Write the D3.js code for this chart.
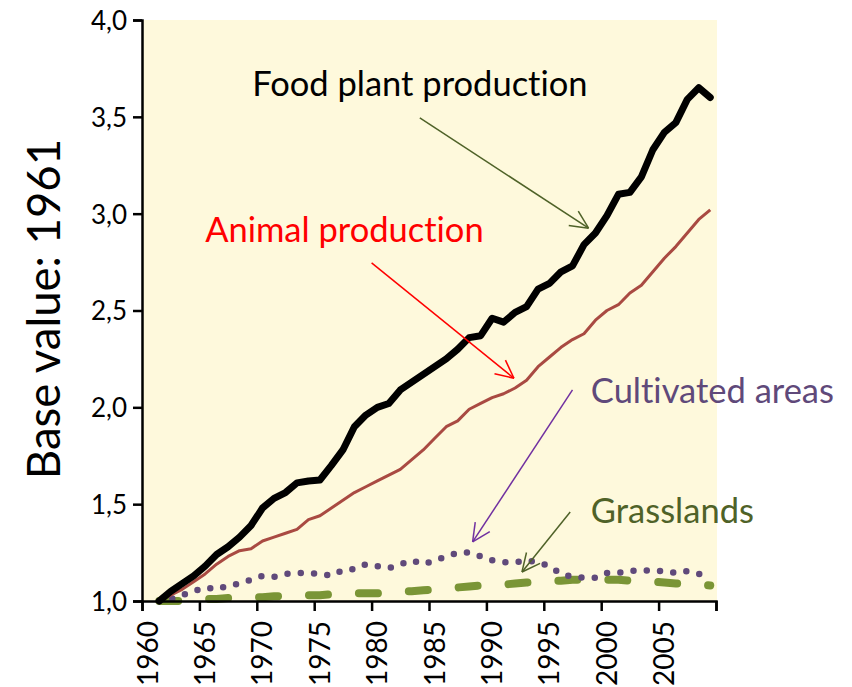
<!DOCTYPE html>
<html>
<head>
<meta charset="utf-8">
<script src="https://cdn.jsdelivr.net/npm/d3@7"></script>
<style>
  body { margin: 0; background: #fff; }
  text { font-family: Lato, "Open Sans", sans-serif; font-variant-ligatures: none; }
</style>
</head>
<body>
<div id="chart"></div>
<script>
var years = d3.range(1961, 2010);

var foodPlant = [1.00, 1.05, 1.09, 1.13, 1.18, 1.24, 1.28, 1.33, 1.39, 1.48,
                 1.53, 1.56, 1.61, 1.62, 1.625, 1.70, 1.78, 1.90, 1.96, 2.00,
                 2.02, 2.09, 2.13, 2.17, 2.21, 2.25, 2.30, 2.36, 2.37, 2.46,
                 2.44, 2.49, 2.52, 2.61, 2.64, 2.70, 2.73, 2.84, 2.90, 2.99,
                 3.10, 3.11, 3.19, 3.33, 3.42, 3.47, 3.59, 3.65, 3.60];

var animal = [1.00, 1.03, 1.06, 1.10, 1.14, 1.19, 1.23, 1.26, 1.27, 1.31,
              1.33, 1.35, 1.37, 1.42, 1.44, 1.48, 1.52, 1.56, 1.59, 1.62,
              1.65, 1.68, 1.73, 1.78, 1.84, 1.90, 1.93, 1.99, 2.02, 2.05,
              2.07, 2.10, 2.14, 2.21, 2.26, 2.31, 2.35, 2.38, 2.45, 2.50,
              2.53, 2.59, 2.63, 2.70, 2.77, 2.83, 2.90, 2.97, 3.02];

var cultivated = [1.00, 1.01, 1.03, 1.05, 1.07, 1.06, 1.08, 1.09, 1.11, 1.13,
                  1.125, 1.14, 1.145, 1.145, 1.14, 1.13, 1.16, 1.165, 1.19, 1.18,
                  1.17, 1.19, 1.21, 1.19, 1.21, 1.23, 1.25, 1.25, 1.23, 1.21,
                  1.20, 1.20, 1.21, 1.20, 1.18, 1.14, 1.125, 1.12, 1.12, 1.145,
                  1.145, 1.155, 1.16, 1.155, 1.155, 1.145, 1.155, 1.14, 1.135];

var grasslands = [1.00, 1.00, 1.00, 1.005, 1.01, 1.01, 1.015, 1.015, 1.02, 1.02,
                  1.025, 1.025, 1.03, 1.03, 1.03, 1.035, 1.035, 1.04, 1.04, 1.04,
                  1.045, 1.05, 1.05, 1.055, 1.06, 1.065, 1.07, 1.075, 1.08, 1.08,
                  1.085, 1.09, 1.095, 1.10, 1.105, 1.105, 1.11, 1.11, 1.11, 1.11,
                  1.11, 1.105, 1.10, 1.10, 1.095, 1.09, 1.09, 1.085, 1.08];

var yTicks = [1.0, 1.5, 2.0, 2.5, 3.0, 3.5, 4.0];
var xTicks = [1960, 1965, 1970, 1975, 1980, 1985, 1990, 1995, 2000, 2005, 2010];
var xTickLabels = ["1960", "1965", "1970", "1975", "1980", "1985", "1990", "1995", "2000", "2005", ""];

// label text, anchor point (year, value)
var labels = ["Food plant production", "Animal production", "Cultivated areas", "Grasslands"];
var labelYear = [1969.6, 1965.5, 1999.1, 1999.1];
var labelValue = [3.608, 2.854, 2.023, 1.403];
var labelColor = ["#000000", "#ff0000", "#5f497a", "#4f6228"];

// arrows: from (year,value) to (year,value)
var arrowFrom = [[1984.2, 3.495], [1980.0, 2.746], [1997.5, 2.09], [1997.3, 1.46]];
var arrowTo = [[1998.9, 2.925], [1992.4, 2.15], [1988.8, 1.305], [1993.1, 1.15]];
var arrowColor = ["#4f6228", "#ff0000", "#7030a0", "#4f6228"];

var width = 852, height = 687;

var svg = d3.select("#chart").append("svg")
    .attr("width", width)
    .attr("height", height);

var xScale = d3.scaleLinear().domain([1960, 2010]).range([142, 716]);
var yScale = d3.scaleLinear().domain([1, 4]).range([601, 20]);

// background of plot area
svg.append("rect")
    .attr("x", xScale(1960))
    .attr("y", yScale(4))
    .attr("width", xScale(2010) - xScale(1960) + 1)
    .attr("height", yScale(1) - yScale(4))
    .attr("fill", "#fef9dc");

// points sit in the middle of each year
var line = function(values) {
    return d3.line()
        .x(function(d, i) { return xScale(years[i] + 0.5); })
        .y(function(d) { return yScale(d); })(values);
};

svg.append("path")
    .attr("d", line(grasslands))
    .attr("fill", "none")
    .attr("stroke", "#7a9536")
    .attr("stroke-width", 8)
    .attr("stroke-linecap", "round")
    .attr("stroke-dasharray", "19,31");

svg.append("path")
    .attr("d", line(cultivated))
    .attr("fill", "none")
    .attr("stroke", "#604a7b")
    .attr("stroke-width", 6.5)
    .attr("stroke-linecap", "round")
    .attr("stroke-dasharray", "0,13.3");

svg.append("path")
    .attr("d", line(animal))
    .attr("fill", "none")
    .attr("stroke", "#a94a42")
    .attr("stroke-width", 3)
    .attr("stroke-linejoin", "round");

svg.append("path")
    .attr("d", line(foodPlant))
    .attr("fill", "none")
    .attr("stroke", "#000")
    .attr("stroke-width", 7)
    .attr("stroke-linejoin", "round")
    .attr("stroke-linecap", "round");

// axes
var yAxis = d3.axisLeft(yScale)
    .tickValues(yTicks)
    .tickSize(9)
    .tickPadding(6)
    .tickFormat(function(d) { return d3.format(".1f")(d).replace(".", ","); });

var gy = svg.append("g")
    .attr("transform", "translate(" + xScale(1960) + ",0)")
    .call(yAxis);

var xAxis = d3.axisBottom(xScale)
    .tickValues(xTicks)
    .tickSize(10)
    .tickFormat(function(d, i) { return xTickLabels[i]; });

var gx = svg.append("g")
    .attr("transform", "translate(0," + yScale(1) + ")")
    .call(xAxis);

[gx, gy].forEach(function(g) {
    g.select(".domain").attr("stroke", "#000").attr("stroke-width", 2.5);
    g.selectAll(".tick line").attr("stroke", "#000").attr("stroke-width", 2.5);
    g.selectAll("text").attr("fill", "#000").attr("font-family", "Lato, sans-serif");
});

gy.selectAll("text").attr("font-size", 26).attr("dy", "0.36em");

gx.selectAll("text")
    .attr("font-size", 28)
    .attr("text-anchor", "end")
    .attr("transform", "rotate(-90)")
    .attr("x", -20)
    .attr("y", 5)
    .attr("dy", "0.36em");

// y axis title
svg.append("text")
    .text("Base value: 1961")
    .attr("transform", "translate(60,309) rotate(-90)")
    .attr("text-anchor", "middle")
    .attr("font-size", 45.5)
    .attr("fill", "#000");

// annotations
svg.selectAll(".label")
    .data(labels)
    .enter()
    .append("text")
    .attr("class", "label")
    .text(function(d) { return d; })
    .attr("x", function(d, i) { return xScale(labelYear[i]); })
    .attr("y", function(d, i) { return yScale(labelValue[i]); })
    .attr("font-size", 34.5)
    .attr("fill", function(d, i) { return labelColor[i]; });

function drawArrow(from, to, color)
{
    var x1 = xScale(from[0]), y1 = yScale(from[1]);
    var x2 = xScale(to[0]), y2 = yScale(to[1]);
    var ang = Math.atan2(y2 - y1, x2 - x1);
    var len = 20, spread = 0.45;

    svg.append("line")
        .attr("x1", x1).attr("y1", y1)
        .attr("x2", x2).attr("y2", y2)
        .attr("stroke", color)
        .attr("stroke-width", 1.5);

    [-spread, spread].forEach(function(s) {
        svg.append("line")
            .attr("x1", x2).attr("y1", y2)
            .attr("x2", x2 - len * Math.cos(ang + s))
            .attr("y2", y2 - len * Math.sin(ang + s))
            .attr("stroke", color)
            .attr("stroke-width", 1.5);
    });
}

for (var a = 0; a < arrowFrom.length; a++) {
    drawArrow(arrowFrom[a], arrowTo[a], arrowColor[a]);
}
</script>
</body>
</html>
